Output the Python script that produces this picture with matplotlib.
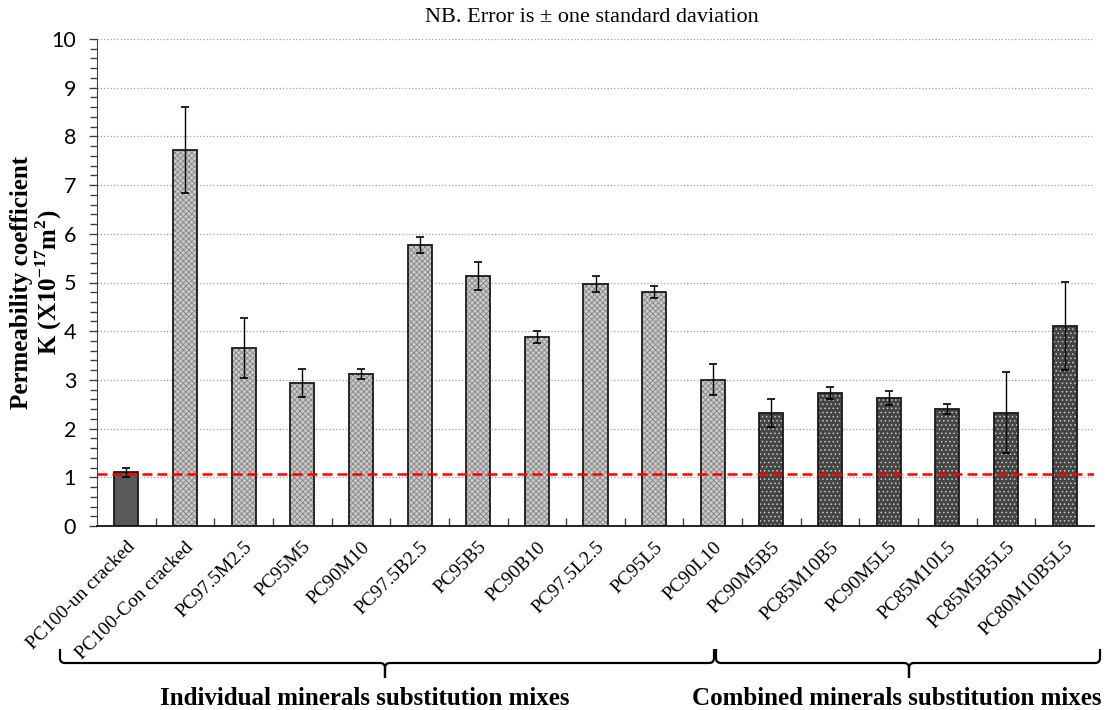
import numpy as np
import matplotlib
matplotlib.use("Agg")
import matplotlib.pyplot as plt
from matplotlib.path import Path
from matplotlib.patches import PathPatch
from matplotlib.ticker import MultipleLocator

categories = ['PC100-un cracked', 'PC100-Con cracked', 'PC97.5M2.5', 'PC95M5', 'PC90M10',
              'PC97.5B2.5', 'PC95B5', 'PC90B10', 'PC97.5L2.5', 'PC95L5', 'PC90L10',
              'PC90M5B5', 'PC85M10B5', 'PC90M5L5', 'PC85M10L5', 'PC85M5B5L5', 'PC80M10B5L5']
perm = [1.10, 7.72, 3.65, 2.94, 3.12, 5.77, 5.13, 3.88, 4.97, 4.81, 3.00,
        2.32, 2.73, 2.63, 2.41, 2.33, 4.11]
perm_err = [0.10, 0.89, 0.62, 0.29, 0.11, 0.17, 0.29, 0.12, 0.16, 0.12, 0.32,
            0.29, 0.12, 0.14, 0.10, 0.83, 0.90]
group = ['control'] + ['individual'] * 10 + ['combined'] * 6
reference_level = 1.07

styles = {
    'control': dict(face='#595959', hatch=None, hcol='#595959'),
    'individual': dict(face='#cacaca', hatch='xxxxxx', hcol='#858585'),
    'combined': dict(face='#454545', hatch='....', hcol='#c8c8c8'),
}

W, H = 1107, 710
fig = plt.figure(figsize=(W / 100, H / 100), dpi=100)
ax = fig.add_axes([97 / W, 184 / H, 997 / W, 487 / H])

x = np.arange(len(categories))
plt.rcParams['hatch.linewidth'] = 0.6
for g, st in styles.items():
    idx = [i for i, gg in enumerate(group) if gg == g]
    vals = [perm[i] for i in idx]
    ax.bar(idx, vals, width=0.41, color=st['face'], hatch=st['hatch'],
           edgecolor=st['hcol'], linewidth=0, zorder=2)
ax.bar(x, perm, width=0.41, fill=False, edgecolor='#1a1a1a', linewidth=1.3, zorder=3)
ax.errorbar(x, perm, yerr=perm_err, fmt='none', ecolor='black', elinewidth=1,
            capsize=3, capthick=1.2, zorder=4)
ax.axhline(reference_level, color='#ff0000', linestyle=(0, (4, 2)), linewidth=1.8, zorder=5)

ax.set_xlim(-0.5, len(categories) - 0.5)
ax.set_ylim(0, 10)
ax.yaxis.set_major_locator(MultipleLocator(1))
ax.yaxis.set_minor_locator(MultipleLocator(0.2))
ax.grid(axis='y', which='major', color='#a0a0a0', linestyle=':', linewidth=0.9, zorder=0)
ax.set_axisbelow(True)
for s in ['top', 'right']:
    ax.spines[s].set_visible(False)
ax.spines['left'].set_color('#404040')
ax.spines['bottom'].set_color('black')
ax.spines['bottom'].set_linewidth(1.2)

ax.tick_params(axis='y', which='major', length=6, width=1, color='#404040',
               labelsize=15.5, pad=9)
ax.tick_params(axis='y', which='minor', length=5, width=1, color='#404040')
for lab in ax.get_yticklabels():
    lab.set_fontfamily('Lato')

ax.set_xticks(x)
ax.set_xticklabels(categories, rotation=45, ha='right', va='top', rotation_mode='anchor',
                   fontsize=14, fontfamily='Liberation Serif')
ax.set_xticks(np.arange(0.5, len(categories) - 0.5, 1), minor=True)
ax.tick_params(axis='x', which='major', length=0, pad=9)
ax.tick_params(axis='x', which='minor', direction='in', length=6, width=1, color='#404040')

fig.text(592 / W, 1 - 17 / H, 'NB. Error is \u00b1 one standard daviation',
         ha='center', va='center', fontsize=16, fontfamily='Liberation Serif')
fig.text(37 / W, 0.5 * (1 - 39 / H + 1 - 526 / H),
         'Permeability coefficient\nK (X10$^{\\mathregular{-17}}$m$^{\\mathregular{2}}$)',
         rotation=90, ha='center', va='center', fontsize=18, fontweight='bold',
         fontfamily='Liberation Serif', linespacing=1.0)


def brace(x0, x1, xm, yl, up=14, down=15, r=5):
    pts = [(x0, yl - up), (x0, yl - r), (x0, yl), (x0 + r, yl),
           (xm - r, yl), (xm, yl), (xm, yl + r), (xm, yl + down),
           (xm, yl + r), (xm, yl), (xm + r, yl),
           (x1 - r, yl), (x1, yl), (x1, yl - r), (x1, yl - up)]
    codes = [Path.MOVETO, Path.LINETO, Path.CURVE3, Path.CURVE3,
             Path.LINETO, Path.CURVE3, Path.CURVE3, Path.LINETO,
             Path.LINETO, Path.CURVE3, Path.CURVE3,
             Path.LINETO, Path.CURVE3, Path.CURVE3, Path.LINETO]
    pts = [(px / W, 1 - py / H) for px, py in pts]
    fig.add_artist(PathPatch(Path(pts, codes), fill=False, edgecolor='black',
                             linewidth=1.6, transform=fig.transFigure))


brace(60, 714, 385, 663)
brace(716, 1100, 909, 663)
fig.text(365 / W, 1 - 705 / H, 'Individual minerals substitution mixes', ha='center',
         va='baseline', fontsize=18, fontweight='bold', fontfamily='Liberation Serif')
fig.text(897 / W, 1 - 705 / H, 'Combined minerals substitution mixes', ha='center',
         va='baseline', fontsize=18, fontweight='bold', fontfamily='Liberation Serif')

fig.savefig('out.png', dpi=100)
